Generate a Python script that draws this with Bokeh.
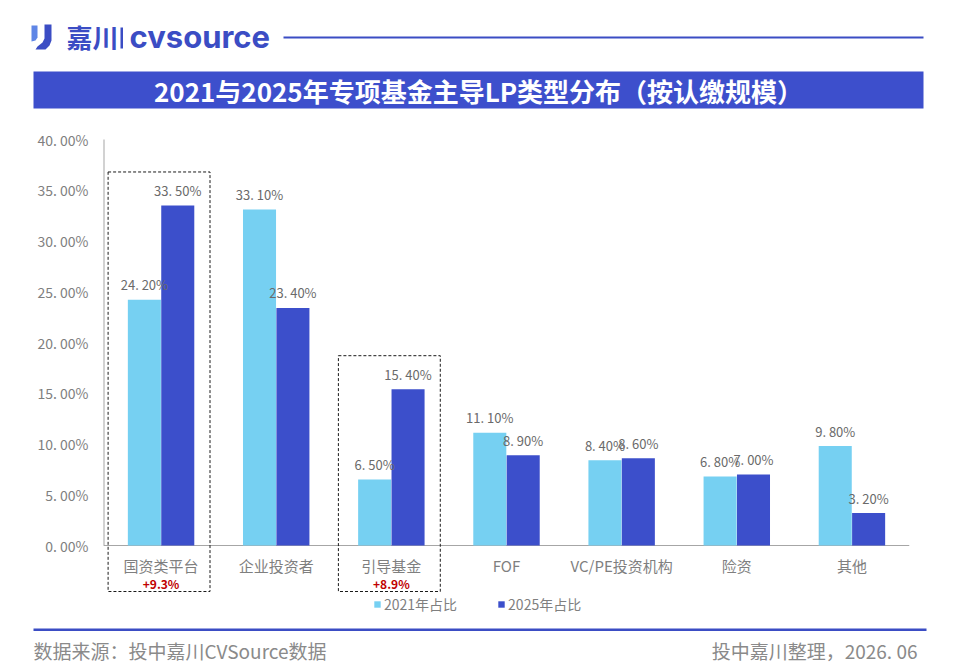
from bokeh.plotting import figure
from bokeh.layouts import column, row
from bokeh.models import (FactorRange, Range1d, FixedTicker, Legend, LegendItem,
                          ColumnDataSource)
from bokeh.transform import dodge
from bokeh.core.properties import value
from bokeh.embed import file_html
from bokeh.resources import INLINE

# ---- data -------------------------------------------------------------
categories = ["国资类平台", "企业投资者", "引导基金", "FOF", "VC/PE投资机构", "险资", "其他"]
share_2021 = [24.2, 33.1, 6.5, 11.1, 8.4, 6.8, 9.8]
share_2025 = [33.5, 23.4, 15.4, 8.9, 8.6, 7.0, 3.2]
series_names = ["2021年占比", "2025年占比"]
y_ticks = [0, 5, 10, 15, 20, 25, 30, 35, 40]
y_tick_labels = ["0. 00%", "5. 00%", "10. 00%", "15. 00%", "20. 00%",
                 "25. 00%", "30. 00%", "35. 00%", "40. 00%"]
highlighted = ["国资类平台", "引导基金"]

title_text = "2021与2025年专项基金主导LP类型分布（按认缴规模）"
source_text = "数据来源：投中嘉川CVSource数据"
credit_text = "投中嘉川整理，2026. 06"

# ---- styling ----------------------------------------------------------
CJK = "Noto Sans CJK SC"
LIGHT = "#76D0F2"
DARK = "#3C4FCB"
BRAND = "#3B4DC4"
GREY = "#7F7F7F"

W = 960
HEAD_H = 120          # header strip: logo, rule, title banner
MAIN_TOP, MAIN_BOT = 120, 620
FOOT_H = 669 - MAIN_BOT

# plot geometry inside the main strip (page pixels)
AX_LEFT, AX_RIGHT = 103, 909
Y_TOP_PX, Y_ZERO_PX = 139, 545     # where 40 % and 0 % sit
Y_MAX = 40.0
PX_PER_UNIT = (Y_ZERO_PX - Y_TOP_PX) / Y_MAX


def yv(page_y):
    """page pixel row -> value on the percentage axis"""
    return (Y_ZERO_PX - page_y) / PX_PER_UNIT


def pct(v):
    return f"{v:.2f}".replace(".", ". ") + "%"


def strip(height, y0):
    """a plain drawing strip whose coordinates are page pixels"""
    f = figure(width=W, height=height, output_backend="svg", toolbar_location=None,
               x_range=Range1d(0, W), y_range=Range1d(y0 + height, y0),
               min_border=0, x_axis_location=None, y_axis_location=None,
               background_fill_color="white", border_fill_color="white")
    f.outline_line_color = None
    f.grid.visible = False
    return f


# ---- header -----------------------------------------------------------
head = strip(HEAD_H, 0)
# logo mark: short light stroke and a taller hooked stroke
head.patch([31, 37, 37, 35, 31], [25, 25, 37, 40, 41],
           fill_color="#5F86E6", line_color=None)
head.patch([44, 51, 51, 49, 45, 35, 37, 42, 44],
           [24, 24, 40, 45, 49, 49, 46, 42, 38],
           fill_color=BRAND, line_color=None)
head.text(x=[66], y=[36], text=["嘉川"], text_baseline="middle",
          text_font=value(CJK), text_font_size="26px", text_font_style="bold",
          text_color=BRAND)
head.quad(left=[120], right=[122.5], top=[27], bottom=[48], fill_color=BRAND,
          line_color=None)
head.text(x=[129], y=[36], text=["cvsource"], text_baseline="middle",
          text_font=value("Inter"), text_font_size="31px", text_font_style="bold",
          text_color=BRAND)
head.quad(left=[283], right=[923], top=[36], bottom=[38], fill_color=BRAND,
          line_color=None)
head.quad(left=[33], right=[923], top=[71], bottom=[108], fill_color="#3D4FCC",
          line_color=None)
head.text(x=[478], y=[90], text=[title_text], text_align="center",
          text_baseline="middle", text_font=value(CJK), text_font_size="26px",
          text_font_style="bold", text_color="white")

# ---- main chart -------------------------------------------------------
src = ColumnDataSource(dict(
    cat=categories,
    v21=share_2021,
    v25=share_2025,
    l21=[pct(v) for v in share_2021],
    l25=[pct(v) for v in share_2025],
))

main_h = MAIN_BOT - MAIN_TOP
p = figure(width=W, height=main_h, output_backend="svg", toolbar_location=None,
           x_range=FactorRange(factors=categories),
           y_range=Range1d(yv(MAIN_BOT), yv(MAIN_TOP)),
           x_axis_location=None,
           min_border_left=AX_LEFT, min_border_right=W - AX_RIGHT,
           min_border_top=0, min_border_bottom=0,
           background_fill_color="white", border_fill_color="white")
p.outline_line_color = None
p.grid.visible = False

p.yaxis.ticker = FixedTicker(ticks=y_ticks)
p.yaxis.major_label_overrides = {t: s for t, s in zip(y_ticks, y_tick_labels)}
p.yaxis.major_tick_line_color = None
p.yaxis.minor_tick_line_color = None
p.yaxis.axis_line_color = None
p.yaxis.major_label_text_font = CJK
p.yaxis.major_label_text_font_size = "14px"
p.yaxis.major_label_text_color = GREY
p.yaxis.major_label_standoff = 9

# axis lines: vertical one from 0 % to 40 %, baseline under the bars
n = len(categories)
p.segment(x0=[0], y0=[0], x1=[0], y1=[Y_MAX], line_color="#A6A6A6", line_width=2)
p.segment(x0=[0], y0=[0], x1=[n], y1=[0], line_color="#A6A6A6", line_width=1)

OFF, BW = 0.145, 0.287
r21 = p.vbar(x=dodge("cat", -OFF, range=p.x_range), top="v21", width=BW,
             source=src, fill_color=LIGHT, line_color=None)
r25 = p.vbar(x=dodge("cat", OFF, range=p.x_range), top="v25", width=BW,
             source=src, fill_color=DARK, line_color=None)

for col, lab, off in (("v21", "l21", -OFF), ("v25", "l25", OFF)):
    p.text(x=dodge("cat", off, range=p.x_range), y=col, text=lab, source=src,
           text_align="center", text_baseline="middle", y_offset=-15,
           text_font=value(CJK), text_font_size="13px", text_color="#6A6A6A")

# category labels under the baseline
p.text(x=categories, y=[yv(565)] * n, text=categories, text_align="center",
       text_baseline="middle", text_font=value(CJK), text_font_size="15px",
       text_color=GREY)

# dashed frames round the two fastest-growing LP types, with their gain
for name in highlighted:
    i = categories.index(name)
    a, b = share_2021[i], share_2025[i]
    p.quad(left=[i + 0.5 - 0.46], right=[i + 0.5 + 0.425],
           top=[max(a, b) + 3.3], bottom=[yv(591)],
           fill_color=None, line_color="#1A1A1A", line_dash="3 2", line_width=1)
    p.text(x=[name], y=[yv(583)], text=[f"+{b - a:.1f}%"], text_align="center",
           text_baseline="middle", text_font=value(CJK), text_font_size="12px",
           text_font_style="bold", text_color="#C00000")

legend = Legend(items=[LegendItem(label=series_names[0], renderers=[r21]),
                       LegendItem(label=series_names[1], renderers=[r25])],
                orientation="horizontal",
                location=(373 - AX_LEFT, MAIN_BOT - 614),
                glyph_width=8, glyph_height=8, label_standoff=3, spacing=40,
                padding=0, margin=0, border_line_color=None,
                background_fill_alpha=0, label_text_font=CJK,
                label_text_font_size="14px", label_text_color=GREY,
                label_height=20)
p.add_layout(legend)

# ---- footer -----------------------------------------------------------
foot = strip(FOOT_H, MAIN_BOT)
foot.quad(left=[33], right=[926], top=[628], bottom=[630.5], fill_color=BRAND,
          line_color=None)
foot.text(x=[33], y=[650], text=[source_text], text_baseline="middle",
          text_font=value(CJK), text_font_size="19px", text_color="#8A8A8A")
foot.text(x=[917], y=[650], text=[credit_text], text_align="right",
          text_baseline="middle", text_font=value(CJK), text_font_size="19px",
          text_color="#8A8A8A")

# each strip sits in its own row so the strips keep their own frames
page = column(row(head), row(p), row(foot), spacing=0)
open("out.html", "w").write(file_html(page, INLINE))
